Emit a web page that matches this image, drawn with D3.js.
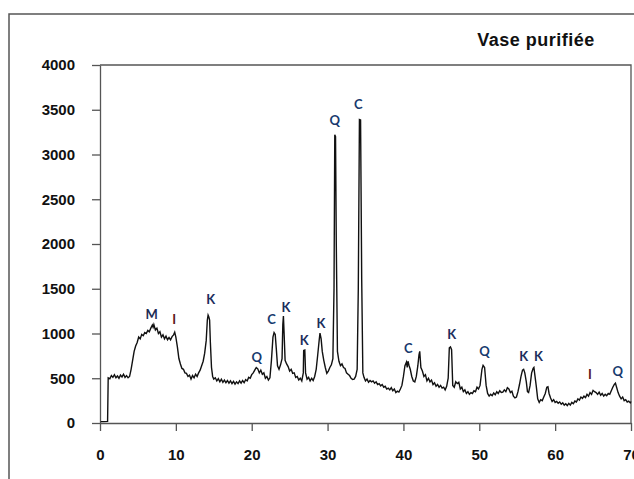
<!DOCTYPE html>
<html>
<head>
<meta charset="utf-8">
<script src="https://cdn.jsdelivr.net/npm/d3@7"></script>
<style>
  html, body { margin: 0; padding: 0; background: #fff; }
  svg { display: block; }
</style>
</head>
<body>
<svg id="chart" width="634" height="479"></svg>
<script>
// Diffraction pattern of the purified sediment: 2θ (degrees) and intensity (counts)
const twoTheta = [
  0.1, 0.5, 1.0, 1.08, 1.3, 1.5, 1.7, 1.9, 2.1, 2.3, 2.5, 2.7, 2.9, 3.1, 3.3, 3.5, 3.7, 3.9,
  4.1, 4.3, 4.5, 4.7, 4.9, 5.1, 5.3, 5.5, 5.7, 5.9, 6.1, 6.3, 6.5, 6.7, 6.9, 7.0, 7.1, 7.3,
  7.5, 7.7, 7.9, 8.1, 8.3, 8.5, 8.7, 8.9, 9.1, 9.3, 9.5, 9.7, 9.85, 10.0, 10.2, 10.4, 10.6,
  10.8, 11.0, 11.2, 11.4, 11.6, 11.8, 12.0, 12.2, 12.4, 12.6, 12.8, 13.0, 13.2, 13.4, 13.6,
  13.8, 14.0, 14.15, 14.25, 14.35, 14.45, 14.55, 14.7, 14.85, 15.0, 15.2, 15.4, 15.6, 15.8,
  16.0, 16.2, 16.4, 16.6, 16.8, 17.0, 17.2, 17.4, 17.6, 17.8, 18.0, 18.2, 18.4, 18.6, 18.8,
  19.0, 19.2, 19.4, 19.6, 19.8, 20.0, 20.2, 20.4, 20.6, 20.8, 21.0, 21.2, 21.4, 21.6, 21.8,
  22.0, 22.2, 22.4, 22.6, 22.8, 22.95, 23.1, 23.25, 23.4, 23.6, 23.8, 24.0, 24.1, 24.18,
  24.28, 24.4, 24.6, 24.8, 25.0, 25.2, 25.4, 25.6, 25.8, 26.0, 26.2, 26.4, 26.6, 26.8, 26.85,
  27.0, 27.1, 27.3, 27.5, 27.7, 27.9, 28.1, 28.3, 28.5, 28.7, 28.9, 29.0, 29.15, 29.3, 29.5,
  29.7, 29.9, 30.1, 30.3, 30.5, 30.7, 30.85, 30.95, 31.05, 31.15, 31.3, 31.5, 31.7, 31.9,
  32.1, 32.3, 32.5, 32.7, 32.9, 33.1, 33.3, 33.5, 33.7, 33.9, 34.05, 34.2, 34.35, 34.5, 34.65,
  34.8, 35.0, 35.2, 35.4, 35.6, 35.8, 36.0, 36.2, 36.4, 36.6, 36.8, 37.0, 37.2, 37.4, 37.6,
  37.8, 38.0, 38.2, 38.4, 38.6, 38.8, 39.0, 39.2, 39.4, 39.6, 39.8, 40.0, 40.2, 40.4, 40.5,
  40.6, 40.75, 40.9, 41.1, 41.3, 41.5, 41.7, 41.9, 42.05, 42.15, 42.3, 42.5, 42.7, 42.9, 43.1,
  43.3, 43.5, 43.7, 43.9, 44.1, 44.3, 44.5, 44.7, 44.9, 45.1, 45.3, 45.5, 45.7, 45.9, 46.05,
  46.2, 46.35, 46.5, 46.7, 46.9, 47.1, 47.3, 47.5, 47.7, 47.9, 48.1, 48.3, 48.5, 48.7, 48.9,
  49.1, 49.3, 49.5, 49.7, 49.9, 50.1, 50.35, 50.5, 50.7, 50.9, 51.1, 51.3, 51.5, 51.7, 51.9,
  52.1, 52.3, 52.5, 52.7, 52.9, 53.1, 53.3, 53.5, 53.7, 53.9, 54.1, 54.3, 54.5, 54.7, 54.9,
  55.1, 55.3, 55.5, 55.7, 55.85, 56.0, 56.2, 56.35, 56.5, 56.7, 56.9, 57.1, 57.2, 57.35, 57.5,
  57.7, 57.9, 58.1, 58.3, 58.5, 58.7, 58.9, 59.05, 59.2, 59.4, 59.6, 59.8, 60.0, 60.2, 60.4,
  60.6, 60.8, 61.0, 61.2, 61.4, 61.6, 61.8, 62.0, 62.2, 62.4, 62.6, 62.8, 63.0, 63.2, 63.4,
  63.6, 63.8, 64.0, 64.2, 64.4, 64.6, 64.8, 65.0, 65.2, 65.4, 65.6, 65.8, 66.0, 66.2, 66.4,
  66.6, 66.8, 67.0, 67.2, 67.4, 67.6, 67.8, 67.95, 68.1, 68.3, 68.5, 68.7, 68.9, 69.1, 69.3,
  69.5, 69.7, 69.9, 70.0
];
const counts = [
  15, 15, 18, 505, 495, 530, 510, 540, 505, 525, 500, 535, 515, 545, 510, 530, 505, 520,
  600, 700, 800, 860, 900, 960, 940, 990, 975, 1010, 1000, 1035, 1020, 1060, 1095, 1070, 1100, 1040,
  1060, 1000, 1020, 960, 985, 940, 970, 930, 955, 930, 965, 985, 1015, 960, 850, 720, 660,
  610, 600, 560, 555, 520, 535, 490, 530, 505, 545, 520, 560, 590, 640, 690,
  780, 920, 1150, 1205, 1185, 1150, 900, 620, 520, 490, 505, 470, 495, 460,
  490, 455, 480, 450, 475, 445, 470, 440, 465, 435, 460, 440, 470, 445, 475,
  450, 485, 470, 510, 500, 540, 560, 590, 620, 605, 560, 590, 545, 560, 500,
  520, 480, 505, 700, 960, 1010, 990, 820, 640, 600, 650, 720, 1100, 1195,
  980, 700, 660, 630, 580, 600, 555, 560, 510, 520, 480, 500, 470, 560, 810,
  815, 560, 490, 510, 470, 500, 475, 520, 600, 760, 930, 1005, 940, 800, 700,
  620, 555, 580, 620, 650, 720, 1500, 3220, 3200, 2000, 800, 690, 640, 660,
  620, 610, 560, 545, 530, 500, 485, 490, 520, 600, 1500, 3390, 3385, 1600, 560,
  510, 470, 490, 455, 475, 460, 470, 445, 460, 430, 440, 415, 430, 400, 410,
  380, 390, 370, 395, 360, 380, 340, 355, 345, 380, 420, 520, 640, 680, 620,
  690, 640, 600, 520, 470, 460, 520, 640, 760, 800, 620, 580, 520, 540, 470,
  500, 460, 480, 430, 450, 410, 430, 400, 420, 390, 400, 370, 410, 500, 840,
  850, 820, 420, 400, 460, 440, 455, 380, 400, 350, 370, 330, 350, 320, 340,
  330, 360, 350, 400, 380, 420, 600, 645, 620, 420, 330, 300, 320, 305, 335,
  315, 350, 330, 360, 340, 345, 370, 350, 395, 380, 340, 355, 300, 280, 290,
  350, 430, 520, 590, 600, 560, 460, 350, 340, 420, 560, 610, 620, 520, 420,
  270, 230, 260, 250, 290, 330, 400, 405, 330, 280, 240, 260, 230, 240, 220,
  235, 210, 225, 200, 215, 195, 220, 200, 230, 215, 245, 235, 270, 255, 290,
  275, 300, 285, 320, 300, 340, 320, 365, 350, 340, 320, 345, 310, 330, 300,
  320, 305, 330, 320, 360, 400, 430, 445, 400, 340, 300, 270, 290, 250, 260,
  235, 245, 225, 240
];

// Phase annotations: mineral letter, 2θ and intensity where the letter sits
const peakLetters = ["M", "I", "K", "Q", "C", "K", "K", "K", "Q", "C", "C", "K", "Q", "K", "K", "I", "Q"];
const peakTheta   = [6.8, 9.78, 14.58, 20.65, 22.6, 24.5, 26.93, 29.13, 30.96, 34.05, 40.65, 46.35, 50.7, 55.85, 57.8, 64.6, 68.25];
const peakCounts  = [1218, 1162, 1390, 740, 1157, 1300, 930, 1115, 3390, 3560, 840, 1000, 800, 750, 750, 545, 585];

const xTicks = [0, 10, 20, 30, 40, 50, 60, 70];
const yTicks = [0, 500, 1000, 1500, 2000, 2500, 3000, 3500, 4000];
const chartTitle = "Vase purifiée";

const svg = d3.select("#chart");
const plot = { left: 100, right: 631, top: 65, bottom: 423 };

const x = d3.scaleLinear().domain([0, 70]).range([plot.left, plot.right]);
const y = d3.scaleLinear().domain([0, 4000]).range([plot.bottom, plot.top]);

// outer frame
svg.append("path")
  .attr("d", "M9,479 L9,14 L634,14")
  .attr("fill", "none")
  .attr("stroke", "#555")
  .attr("stroke-width", 1.5);

// plot box: top and right borders
svg.append("path")
  .attr("d", `M${plot.left},${plot.top} L${plot.right},${plot.top} L${plot.right},${plot.bottom}`)
  .attr("fill", "none")
  .attr("stroke", "#555")
  .attr("stroke-width", 1.3);

const axisFont = "bold 15px 'Liberation Sans', Arial, sans-serif";

const xAxis = svg.append("g")
  .attr("transform", `translate(0,${plot.bottom})`)
  .call(d3.axisBottom(x).tickValues(xTicks).tickFormat(d3.format("d"))
    .tickSize(8).tickSizeOuter(0).tickPadding(18));
const yAxis = svg.append("g")
  .attr("transform", `translate(${plot.left},0)`)
  .call(d3.axisLeft(y).tickValues(yTicks).tickFormat(d3.format("d"))
    .tickSize(8).tickSizeOuter(0).tickPadding(17));

[xAxis, yAxis].forEach(g => {
  g.select(".domain").attr("stroke", "#555").attr("stroke-width", 1.3);
  g.selectAll(".tick line").attr("stroke", "#555").attr("stroke-width", 1.3);
  g.selectAll(".tick text").style("font", axisFont).attr("fill", "#111");
});

// pattern trace
const clipId = "plot-clip";
svg.append("clipPath").attr("id", clipId)
  .append("rect")
  .attr("x", plot.left).attr("y", plot.top - 2)
  .attr("width", plot.right - plot.left + 2).attr("height", plot.bottom - plot.top + 2);

const pts = twoTheta.map((t, i) => [t, counts[i]]);
svg.append("path")
  .datum(pts)
  .attr("clip-path", `url(#${clipId})`)
  .attr("fill", "none")
  .attr("stroke", "#111")
  .attr("stroke-width", 1.4)
  .attr("stroke-linejoin", "miter")
  .attr("d", d3.line().x(d => x(d[0])).y(d => y(d[1])));

// mineral letters
const letterColor = { M: "#1d2b55", I: "#5b1620", K: "#1b2d5c", Q: "#173a6e", C: "#173a6e" };
svg.append("g")
  .selectAll("text")
  .data(peakLetters.map((l, i) => ({ l, t: peakTheta[i], c: peakCounts[i] })))
  .join("text")
  .attr("x", d => x(d.t))
  .attr("y", d => y(d.c))
  .attr("text-anchor", "middle")
  .attr("dominant-baseline", "central")
  .style("font", "bold 13px Lato, 'Open Sans', sans-serif")
  .attr("fill", d => letterColor[d.l])
  .text(d => d.l);

// title
svg.append("text")
  .attr("x", 536)
  .attr("y", 46)
  .attr("text-anchor", "middle")
  .style("font", "bold 18px 'Liberation Sans', Arial, sans-serif")
  .style("letter-spacing", "0.5px")
  .attr("fill", "#111")
  .text(chartTitle);
</script>
</body>
</html>
